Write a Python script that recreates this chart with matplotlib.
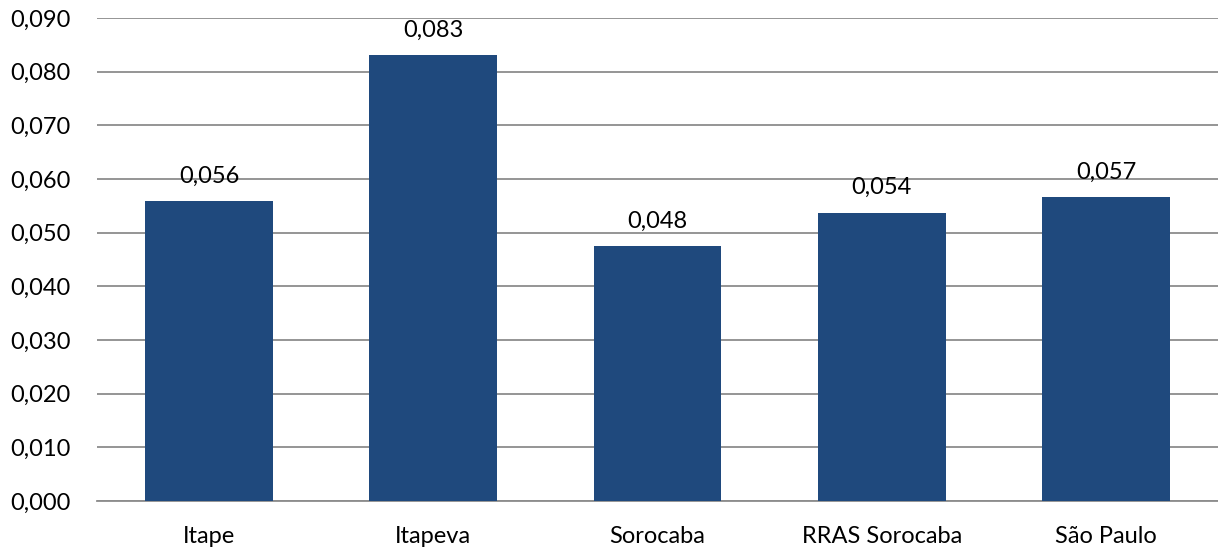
import numpy as np
import matplotlib.pyplot as plt
from matplotlib.ticker import FuncFormatter, MultipleLocator

plt.rcParams['font.family'] = ['Lato', 'DejaVu Sans']

categories = ['Itape', 'Itapeva', 'Sorocaba', 'RRAS Sorocaba', 'São Paulo']
values = [0.0559, 0.0831, 0.0475, 0.0537, 0.0566]

bar_color = '#1F497D'
grid_color = '#8C8C8C'

fig = plt.figure(figsize=(12.18, 5.49), dpi=100)
ax = fig.add_axes([0.0796, 0.0874, 0.9204, 0.8796])

x = np.arange(len(categories))
ax.bar(x, values, width=0.57, color=bar_color, zorder=3)

for xi, v in zip(x, values):
    ax.annotate(f'{v:.3f}'.replace('.', ','), (xi, v), xytext=(0, 10.5),
                textcoords='offset points', ha='center', va='bottom',
                fontsize=17, color='black', zorder=4)

ax.set_xlim(-0.5, len(categories) - 0.5)
ax.set_ylim(0, 0.09)
ax.yaxis.set_major_locator(MultipleLocator(0.01))
ax.yaxis.set_major_formatter(FuncFormatter(lambda v, p: f'{v:.3f}'.replace('.', ',')))
ax.grid(axis='y', color=grid_color, linewidth=1.3, zorder=0)
ax.set_xticks(x)
ax.set_xticklabels(categories)

for s in ['top', 'right', 'left']:
    ax.spines[s].set_visible(False)
ax.spines['bottom'].set_color(grid_color)
ax.spines['bottom'].set_linewidth(1.3)
ax.tick_params(axis='both', length=0, labelsize=17, colors='black')
ax.tick_params(axis='y', pad=19)
ax.tick_params(axis='x', pad=18)

fig.savefig('out.png', dpi=100)
